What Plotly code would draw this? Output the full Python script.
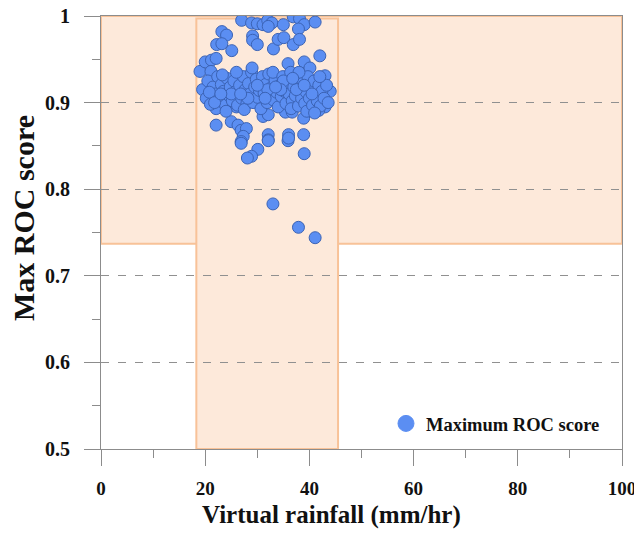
import plotly.graph_objects as go

# approximate point reading of the reference scatter
rain = [
    27.0, 28.9, 30.0, 31.1, 32.0, 32.8, 32.1, 35.0, 36.9, 38.1, 39.0, 41.1, 37.9,
    23.2, 24.1, 22.2, 23.2, 25.1, 29.1, 29.1, 30.0, 33.1, 34.0, 35.1, 36.9, 38.1,
    42.0, 19.0, 20.0, 21.2, 22.1, 21.1, 39.0, 35.9, 40.1, 43.0, 44.0,
    22.1, 25.0, 26.3, 26.9, 27.9, 27.3, 26.9, 31.1, 32.1, 32.1, 32.1, 22.1, 26.0,
    26.9, 30.1, 28.9, 28.1, 32.1, 35.9, 39.0, 33.0, 37.9, 41.1,
    38.9, 36.0, 36.0, 38.9, 43.0, 41.8, 35.4, 36.7,
    19.5, 20.2, 20.5, 21.0, 21.5, 22.0, 22.4, 20.8,
    22.8, 23.1, 23.5, 23.9, 24.2, 24.6, 24.8, 23.3, 24.0,
    25.2, 25.5, 25.9, 26.2, 26.6, 27.0, 27.3, 27.7, 28.0, 26.0, 27.5,
    28.3, 28.6, 28.9, 29.2, 29.5, 29.8, 30.1, 30.4, 30.7, 31.0, 29.0,
    31.3, 31.6, 31.9, 32.2, 32.5, 32.8, 33.1, 33.4, 33.7, 34.0, 32.0, 33.0,
    34.3, 34.6, 34.9, 35.2, 35.5, 35.8, 36.1, 36.4, 36.7, 37.0, 35.0, 36.5,
    37.3, 37.6, 37.9, 38.2, 38.5, 38.8, 39.1, 39.4, 39.7, 40.0, 38.0, 39.5,
    40.3, 40.6, 40.9, 41.2, 41.5, 41.8, 42.1, 42.4, 42.8, 43.3, 43.6, 41.0,
    21.8, 25.0, 28.2, 30.0, 31.5, 34.5, 37.5, 40.5, 23.0, 26.8, 33.5, 36.8,
    39.0, 42.0,
]
roc = [
    0.995, 0.992, 0.991, 0.990, 0.995, 0.992, 0.988, 0.990, 0.999, 0.997, 0.990, 0.993, 0.985,
    0.982, 0.978, 0.967, 0.968, 0.960, 0.977, 0.972, 0.967, 0.962, 0.973, 0.975, 0.967, 0.973,
    0.954, 0.936, 0.947, 0.949, 0.951, 0.936, 0.947, 0.945, 0.940, 0.931, 0.913,
    0.874, 0.878, 0.874, 0.868, 0.870, 0.861, 0.855, 0.884, 0.886, 0.863, 0.857, 0.893, 0.895,
    0.853, 0.846, 0.838, 0.836, 0.856, 0.856, 0.841, 0.783, 0.756, 0.744,
    0.882, 0.863, 0.859, 0.863, 0.895, 0.891, 0.889, 0.889,
    0.915, 0.905, 0.925, 0.898, 0.918, 0.910, 0.930, 0.912,
    0.902, 0.921, 0.913, 0.897, 0.928, 0.908, 0.918, 0.932, 0.890,
    0.902, 0.925, 0.913, 0.897, 0.920, 0.905, 0.930, 0.915, 0.899, 0.935, 0.892,
    0.922, 0.910, 0.935, 0.900, 0.918, 0.927, 0.906, 0.914, 0.893, 0.930, 0.940,
    0.911, 0.921, 0.900, 0.933, 0.908, 0.918, 0.903, 0.926, 0.912, 0.895, 0.915, 0.935,
    0.920, 0.907, 0.930, 0.913, 0.899, 0.922, 0.910, 0.935, 0.902, 0.918, 0.925, 0.893,
    0.908, 0.927, 0.896, 0.916, 0.905, 0.923, 0.899, 0.912, 0.930, 0.905, 0.935, 0.890,
    0.918, 0.897, 0.925, 0.910, 0.902, 0.920, 0.896, 0.913, 0.905, 0.920, 0.900, 0.888,
    0.900, 0.910, 0.905, 0.920, 0.905, 0.915, 0.915, 0.910, 0.910, 0.910, 0.918, 0.928,
    0.920, 0.930,
]

# shaded ranges: (x0, x1, y0, y1)
range_full = (0, 100, 0.737, 1.0)
range_rain = (18.3, 45.5, 0.5, 0.997)

font_family = 'Liberation Serif'
axis_color = '#8c8c8c'
fill_color = '#fde9da'
edge_color = '#f8c298'

fig = go.Figure()

for x0, x1, y0, y1 in [range_full, range_rain]:
    fig.add_shape(type='rect', x0=x0, x1=x1, y0=y0, y1=y1,
                  xref='x', yref='y', layer='below',
                  fillcolor=fill_color,
                  line={'color': edge_color, 'width': 2})

fig.add_trace(
    go.Scatter(x=rain,
               y=roc,
               mode='markers',
               showlegend=False,
               marker={'size': 12,
                       'color': '#5b8ef2',
                       'line': {'color': '#3b63b5', 'width': 1}})
)

# legend entry with a bigger marker, like the reference
fig.add_trace(
    go.Scatter(x=[None],
               y=[None],
               mode='markers',
               name='Maximum ROC score',
               marker={'size': 18,
                       'color': '#5b8ef2',
                       'line': {'color': '#5b8ef2', 'width': 1}})
)

# axis titles sit a little off-centre in the reference, so use annotations
fig.add_annotation(text='Virtual rainfall (mm/hr)', xref='paper', yref='paper',
                   x=0.443, y=-0.152, xanchor='center', yanchor='middle',
                   showarrow=False, font={'size': 25, 'weight': 'bold'})
fig.add_annotation(text='Max ROC score', xref='paper', yref='paper',
                   x=-0.15, y=0.533, xanchor='center', yanchor='middle',
                   textangle=-90, showarrow=False,
                   font={'size': 30, 'weight': 'bold'})

# the page body adds an 8px offset, so the figure is 8px smaller
fig.update_layout(
    width=634,
    height=526,
    margin={'l': 93, 'r': 20, 't': 8, 'b': 85},
    paper_bgcolor='white',
    plot_bgcolor='white',
    font={'family': font_family, 'color': '#111111'},
    legend={'x': 0.547, 'y': 0.058, 'xanchor': 'left', 'yanchor': 'middle',
            'bgcolor': 'rgba(0,0,0,0)',
            'font': {'size': 18.5, 'family': font_family, 'weight': 'bold'}},
    xaxis={
        'range': [0, 100],
        'tickvals': [0, 20, 40, 60, 80, 100],
        'showgrid': False,
        'zeroline': False,
        'showline': True,
        'linecolor': axis_color,
        'linewidth': 1,
        'mirror': True,
        'ticks': 'outside',
        'ticklen': 16,
        'tickcolor': axis_color,
        'ticklabelstandoff': 6,
        'ticklabeloverflow': 'allow',
        'tickfont': {'size': 19, 'weight': 'bold'},
        'minor': {'dtick': 10, 'ticks': 'outside', 'ticklen': 8, 'tickcolor': axis_color},
        'automargin': False,
    },
    yaxis={
        'range': [0.5, 1.0],
        'tickvals': [0.5, 0.6, 0.7, 0.8, 0.9, 1.0],
        'showgrid': True,
        'gridcolor': '#909090',
        'griddash': '8px,9px',
        'gridwidth': 1,
        'zeroline': False,
        'showline': True,
        'linecolor': axis_color,
        'linewidth': 1,
        'mirror': True,
        'ticks': 'outside',
        'ticklen': 16,
        'tickcolor': axis_color,
        'ticklabelstandoff': 10,
        'ticklabeloverflow': 'allow',
        'tickfont': {'size': 20, 'weight': 'bold'},
        'minor': {'dtick': 0.05, 'ticks': 'outside', 'ticklen': 8, 'tickcolor': axis_color},
        'automargin': False,
    },
)

fig.write_html("out.html")
